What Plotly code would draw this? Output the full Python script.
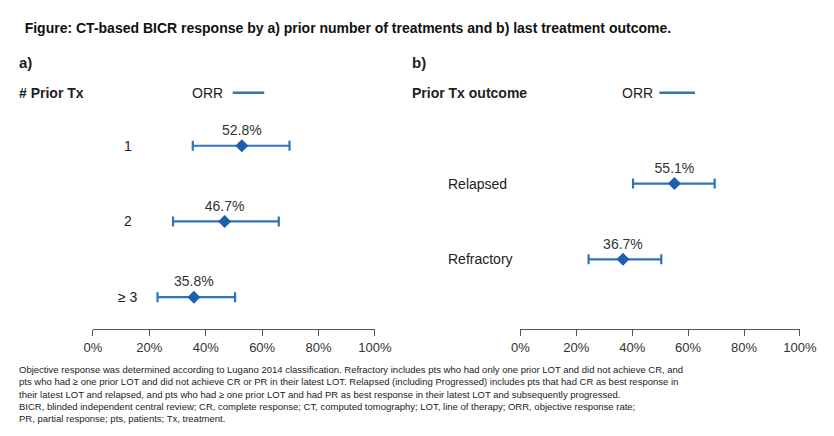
import plotly.graph_objects as go

# a) prior number of treatments
tx_labels = ['1', '2', '≥ 3']
tx_orr = [52.8, 46.7, 35.8]
tx_low = [35.4, 28.4, 22.9]
tx_high = [69.7, 65.9, 50.4]

# b) last treatment outcome
out_labels = ['Relapsed', 'Refractory']
out_orr = [55.1, 36.7]
out_low = [40.3, 24.4]
out_high = [69.5, 50.4]

tick_vals = [0, 20, 40, 60, 80, 100]
tick_text = ['0%', '20%', '40%', '60%', '80%', '100%']

line_col = '#2e75b6'
mark_col = '#1f5fa8'
font = 'Liberation Sans, Arial'

fig = go.Figure()

def add_panel(orr, lo, hi, ypos, xa, ya):
    fig.add_trace(go.Scatter(
        x=orr, y=ypos, xaxis=xa, yaxis=ya, mode='markers+text',
        text=[f'{v:.1f}%' for v in orr], textposition='top center',
        textfont=dict(size=14, color='#333'),
        marker=dict(symbol='diamond', size=10, color=mark_col),
        error_x=dict(type='data', symmetric=False,
                     array=[h - o for h, o in zip(hi, orr)],
                     arrayminus=[o - l for o, l in zip(orr, lo)],
                     color=line_col, thickness=2.2, width=5),
        cliponaxis=False, showlegend=False))

add_panel(tx_orr, tx_low, tx_high, [0, 1, 2], 'x', 'y')
add_panel(out_orr, out_low, out_high, [0.5, 1.5], 'x2', 'y2')

ax = dict(range=[0, 100], tickvals=tick_vals, ticktext=tick_text, showgrid=False,
          zeroline=False, showline=True, linecolor='#555', ticks='outside',
          ticklen=6, tickcolor='#555', tickfont=dict(size=13, color='#333'))
ay = dict(range=[2.42, -1], visible=False, domain=[0, 1])
fig.update_layout(
    width=834, height=436, plot_bgcolor='white', paper_bgcolor='white',
    margin=dict(l=0, r=0, t=62, b=115), font=dict(family=font, color='#222'),
    xaxis=dict(ax, domain=[0.094, 0.443], anchor='y'),
    xaxis2=dict(ax, domain=[0.623, 0.969], anchor='y2'),
    yaxis=ay, yaxis2=dict(ay, anchor='x2'),
    title=dict(text='<b>Figure: CT-based BICR response by a) prior number of treatments and b) last treatment outcome.</b>',
               x=0.02, xref='container', xanchor='left', y=0.955, yref='container', yanchor='middle',
               font=dict(size=14, color='#111')),
)

ann = []
for lab, y in zip(tx_labels, [0, 1, 2]):
    ann.append(dict(x=0.137, xref='paper', y=y, yref='y', text=lab, showarrow=False,
                    xanchor='center', font=dict(size=14)))
for lab, y in zip(out_labels, [0.5, 1.5]):
    ann.append(dict(x=0.531, xref='paper', y=y, yref='y2', text=lab, showarrow=False,
                    xanchor='left', font=dict(size=14)))
ann += [
    dict(x=0.0, xref='paper', y=-0.7, yref='y', text='<b># Prior Tx</b>', showarrow=False, xanchor='left', font=dict(size=14)),
    dict(x=0.214, xref='paper', y=-0.7, yref='y', text='ORR', showarrow=False, xanchor='left', font=dict(size=14)),
    dict(x=0.486, xref='paper', y=-0.7, yref='y', text='<b>Prior Tx outcome</b>', showarrow=False, xanchor='left', font=dict(size=14)),
    dict(x=0.746, xref='paper', y=-0.7, yref='y', text='ORR', showarrow=False, xanchor='left', font=dict(size=14)),
    dict(x=0.0, xref='paper', y=1.07, yref='paper', text='<b>a)</b>', showarrow=False, xanchor='left', font=dict(size=15)),
    dict(x=0.486, xref='paper', y=1.07, yref='paper', text='<b>b)</b>', showarrow=False, xanchor='left', font=dict(size=15)),
    dict(x=0.0, xref='paper', y=-0.128, yref='paper', xanchor='left', yanchor='top', showarrow=False, align='left',
         font=dict(size=9.5, color='#222'),
         text='Objective response was determined according to Lugano 2014 classification. Refractory includes pts who had only one prior LOT and did not achieve CR, and<br>'
              'pts who had ≥ one prior LOT and did not achieve CR or PR in their latest LOT. Relapsed (including Progressed) includes pts that had CR as best response in<br>'
              'their latest LOT and relapsed, and pts who had ≥ one prior LOT and had PR as best response in their latest LOT and subsequently progressed.<br>'
              'BICR, blinded independent central review; CR, complete response; CT, computed tomography; LOT, line of therapy; ORR, objective response rate;<br>'
              'PR, partial response; pts, patients; Tx, treatment.'),
]
fig.update_layout(annotations=ann)

# legend line segments next to "ORR"
for x0, x1, yr in [(0.267, 0.306, 'y'), (0.795, 0.839, 'y2')]:
    fig.add_shape(type='line', xref='paper', yref=yr, x0=x0, x1=x1, y0=-0.7, y1=-0.7,
                  line=dict(color=line_col, width=2.5))

fig.write_html("out.html")
